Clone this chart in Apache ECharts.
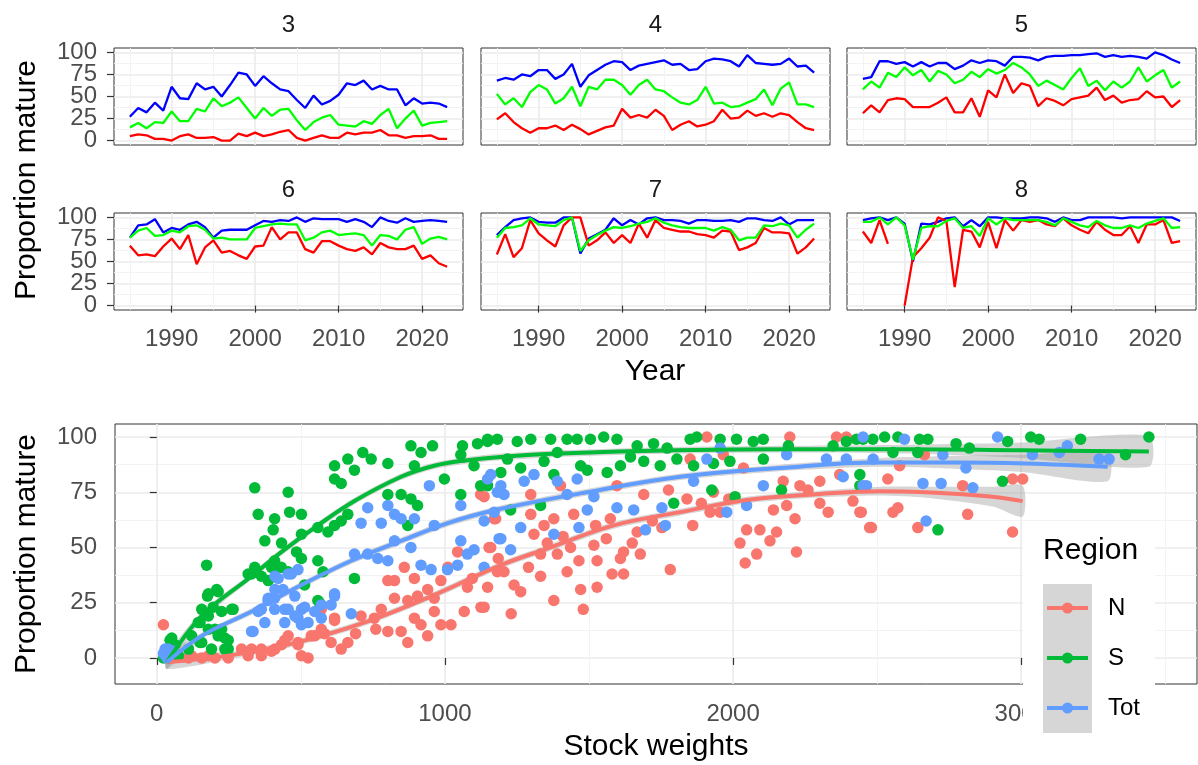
<!DOCTYPE html>
<html>
<head>
<meta charset="utf-8">
<script src="https://cdn.jsdelivr.net/npm/echarts@6/dist/echarts.min.js"></script>
<style>
  html, body { margin: 0; padding: 0; background: #fff; }
  #chart { width: 1198px; height: 765px; }
</style>
</head>
<body>
<div id="chart"></div>
<script>
// years shown in the six facets
const years = [1985, 1986, 1987, 1988, 1989, 1990, 1991, 1992, 1993, 1994, 1995, 1996, 1997, 1998, 1999,
  2000, 2001, 2002, 2003, 2004, 2005, 2006, 2007, 2008, 2009, 2010, 2011, 2012, 2013, 2014, 2015, 2016,
  2017, 2018, 2019, 2020, 2021, 2022, 2023]

// proportion mature by age, N (red) / S (green) / Tot (blue)
const n3 = [5, 7, 6, 2, 2, 0, 5, 7, 3, 3, 4, 0, 0, 8, 5, 9, 5, 7, 10, 12, 3, 0, 3, 6, 3, 3, 9, 7, 9, 9, 12, 6, 6, 3, 5, 5, 6, 2, 2]
const s3 = [15, 20, 14, 21, 20, 33, 22, 22, 36, 33, 48, 39, 43, 49, 37, 25, 37, 28, 35, 36, 23, 12, 21, 26, 29, 18, 17, 16, 22, 19, 29, 36, 14, 25, 34, 17, 20, 21, 22]
const t3 = [27, 37, 32, 43, 34, 61, 48, 47, 65, 58, 61, 50, 63, 77, 75, 62, 73, 65, 58, 56, 46, 37, 51, 41, 45, 52, 65, 63, 68, 58, 62, 58, 58, 40, 48, 42, 43, 42, 38]

const n4 = [24, 31, 21, 14, 9, 14, 14, 17, 12, 18, 13, 7, 11, 15, 17, 36, 26, 29, 26, 35, 28, 12, 18, 22, 16, 18, 22, 35, 25, 26, 34, 28, 31, 27, 31, 29, 21, 14, 12]
const s4 = [53, 41, 48, 38, 55, 63, 58, 42, 48, 61, 39, 61, 58, 69, 69, 63, 52, 63, 69, 58, 56, 49, 43, 41, 46, 61, 42, 43, 38, 39, 43, 47, 58, 40, 59, 66, 41, 41, 38]
const t4 = [68, 71, 69, 75, 73, 80, 80, 70, 75, 87, 61, 74, 80, 86, 90, 89, 80, 85, 87, 89, 91, 86, 87, 80, 81, 90, 93, 92, 90, 84, 97, 88, 87, 86, 87, 93, 84, 85, 77]

const n5 = [31, 40, 32, 46, 48, 47, 38, 38, 38, 43, 49, 32, 32, 48, 27, 57, 49, 75, 54, 65, 62, 39, 48, 45, 40, 47, 49, 51, 60, 46, 51, 43, 46, 47, 56, 49, 50, 38, 46]
const s5 = [58, 67, 60, 77, 72, 83, 74, 80, 67, 79, 75, 65, 69, 78, 72, 81, 76, 80, 88, 83, 75, 62, 68, 63, 58, 71, 82, 62, 68, 57, 67, 60, 67, 83, 67, 74, 80, 60, 67]
const t5 = [70, 72, 90, 90, 87, 89, 84, 89, 84, 88, 88, 81, 85, 91, 88, 91, 90, 85, 95, 95, 94, 91, 95, 96, 96, 97, 97, 98, 99, 95, 97, 95, 96, 95, 93, 100, 97, 92, 88]

const n6 = [68, 57, 58, 56, 67, 76, 64, 80, 47, 66, 74, 60, 62, 57, 53, 67, 68, 89, 75, 83, 83, 64, 60, 73, 73, 68, 64, 62, 66, 58, 71, 66, 64, 64, 68, 53, 57, 48, 44]
const s6 = [77, 85, 88, 79, 80, 85, 83, 90, 91, 86, 76, 77, 75, 75, 75, 88, 90, 92, 93, 92, 92, 74, 77, 83, 85, 80, 81, 82, 80, 68, 80, 79, 75, 86, 89, 70, 76, 78, 75]
const t6 = [77, 91, 92, 98, 83, 88, 86, 92, 95, 89, 77, 85, 86, 86, 86, 91, 96, 95, 97, 96, 100, 95, 99, 98, 98, 98, 95, 98, 95, 89, 100, 96, 94, 99, 95, 96, 97, 96, 95]

const n7 = [58, 81, 55, 65, 97, 82, 74, 67, 91, 100, 100, 68, 74, 83, 71, 80, 71, 93, 77, 97, 88, 86, 84, 84, 81, 80, 77, 85, 84, 63, 66, 71, 88, 83, 83, 82, 59, 66, 76]
const s7 = [77, 88, 89, 91, 99, 92, 91, 90, 97, 100, 62, 74, 80, 85, 89, 88, 90, 93, 95, 99, 94, 91, 89, 88, 88, 88, 85, 89, 86, 74, 77, 77, 91, 90, 93, 91, 77, 86, 93]
const t7 = [80, 89, 97, 99, 100, 95, 94, 94, 100, 100, 59, 76, 81, 86, 99, 91, 97, 92, 99, 100, 97, 97, 96, 93, 97, 97, 96, 96, 97, 95, 99, 99, 97, 96, 100, 92, 97, 97, 97]

const n8 = [84, 71, 97, 70, null, 0, 55, 65, 77, 100, 96, 21, 86, 84, 66, 95, 65, 97, 85, 97, 95, 97, 92, 90, 99, 91, 86, 82, 95, 86, 80, 80, 90, 71, 92, 92, 97, 71, 73]
const s8 = [95, 95, 100, 92, 100, 91, 52, 88, 90, 90, 96, 99, 88, 90, 79, 99, 92, 99, 97, 97, 97, 97, 95, 91, 99, 95, 91, 89, 96, 91, 88, 88, 91, 88, 93, 96, 99, 88, 89]
const t8 = [97, 99, 100, 97, 100, 93, 50, 93, 92, 95, 99, 100, 90, 97, 90, 100, 100, 99, 99, 99, 100, 100, 99, 95, 100, 97, 97, 100, 100, 100, 100, 99, 100, 100, 100, 100, 100, 100, 96]

// stock weight vs proportion mature, [weight, proportion]
const pointsN = [[23, 15], [29, 1], [110, 0], [156, 0], [202, 0], [248, 0], [75, 1], [294, 4], [329, 4], [363, 4], [398, 3],
  [433, 6], [456, 10], [490, 6], [502, 1], [525, 0], [548, 10], [571, 13], [571, 22], [617, 18], [640, 4], [663, 7], [605, 7],
  [709, 19], [755, 18], [779, 22], [802, 12], [802, 35], [825, 35], [859, 41], [894, 36], [848, 12], [871, 7], [894, 18],
  [917, 15], [940, 10], [963, 21], [986, 15], [1021, 15], [905, 28], [940, 31], [963, 27], [986, 35], [1044, 48], [1067, 21],
  [1125, 23], [1148, 32], [1153, 50], [1124, 74], [1176, 63], [1078, 32], [1182, 39], [871, 26], [825, 27],
  [444, 8], [490, 7], [536, 10], [582, 11], [617, 17], [317, 1], [179, 1], [121, 1], [363, 1], [410, 4], [40, 0], [60, 2],
  [1136, 73], [1171, 63], [1159, 50], [1136, 23], [1205, 39], [1263, 30], [1332, 37], [1378, 26], [1424, 39], [1471, 31],
  [1528, 32], [1580, 38], [1620, 38], [1678, 47], [1782, 40], [1298, 65], [1298, 74], [1344, 60], [1378, 63], [1309, 56],
  [1332, 47], [1390, 47], [1436, 50], [1447, 65], [1517, 51], [1528, 44], [1523, 60], [1574, 63], [1609, 45], [1620, 48],
  [1690, 74], [1667, 57], [1753, 59], [1776, 76], [1840, 72], [1851, 90], [1909, 100], [1932, 75], [1920, 66], [1955, 66],
  [2024, 52], [2047, 58], [2042, 43], [2082, 47], [2093, 58], [2128, 53], [2151, 57], [2140, 67], [2186, 69], [2215, 63],
  [2220, 48], [2174, 80], [2232, 78], [2197, 100], [2301, 80], [2301, 70], [2370, 83], [2359, 100], [2393, 100], [2416, 71],
  [2440, 66], [2474, 59], [2036, 86], [1966, 92], [1401, 78], [1597, 78],
  [2445, 66], [2480, 59], [2537, 81], [2578, 87], [2555, 66], [2572, 68], [2641, 59], [2664, 92], [2797, 78], [2814, 65],
  [2970, 81], [3005, 81], [2970, 57],
  [1185, 45], [1240, 33], [1290, 41], [1355, 52], [1410, 55], [1465, 44], [1560, 54], [1650, 52], [1720, 62], [1890, 70],
  [1010, 41], [1095, 36], [760, 13], [690, 11], [1230, 20], [1480, 22], [1860, 60], [1985, 72], [2260, 76], [2330, 66]]

const pointsS = [[23, 0], [30, 2], [40, 1], [46, 8], [173, 42], [176, 28], [208, 31], [156, 22], [179, 19], [225, 21], [265, 22],
  [144, 16], [202, 13], [236, 9], [156, 7], [190, 4], [248, 4], [110, 4], [75, 1], [121, 10], [63, 6], [225, 13], [179, 29],
  [213, 30], [196, 23], [260, 22], [150, 16], [179, 13], [213, 10], [248, 8], [236, 4], [150, 7], [52, 9],
  [340, 77], [352, 65], [409, 63], [456, 75], [461, 66], [502, 65], [375, 53], [404, 58], [433, 52], [485, 48], [502, 45],
  [409, 44], [340, 41], [317, 38], [387, 35], [421, 41], [456, 39], [513, 33], [559, 44], [577, 39], [565, 25], [686, 36],
  [329, 38], [398, 41], [432, 41], [363, 37], [559, 26],
  [617, 87], [663, 90], [715, 93], [744, 90], [686, 85], [617, 81], [640, 79], [802, 88], [882, 96], [917, 93], [957, 96],
  [894, 87], [998, 81], [1061, 96], [1113, 97], [1148, 98], [1055, 92], [1101, 87], [1124, 78], [1055, 74], [848, 74],
  [882, 72], [905, 69], [802, 74], [871, 60], [663, 65], [617, 60], [559, 59], [594, 57], [640, 62], [502, 56],
  [1148, 99], [1182, 99], [1251, 98], [1298, 99], [1367, 99], [1424, 99], [1459, 99], [1505, 99], [1551, 100], [1597, 99],
  [1667, 96], [1724, 97], [1771, 95], [1851, 99], [1874, 100], [1955, 99], [2012, 99], [2070, 98], [2105, 99], [2192, 96],
  [2347, 96], [2393, 98], [2428, 99], [2485, 99],
  [1217, 90], [1263, 86], [1344, 89], [1390, 93], [1471, 87], [1494, 85], [1563, 84], [1609, 87], [1644, 91], [1690, 89],
  [1747, 87], [1805, 90], [1863, 87], [1932, 88], [1989, 89], [2105, 90],
  [1148, 78], [1194, 84], [1228, 67], [1332, 69], [1378, 83], [1794, 70], [1926, 76], [2007, 73], [2168, 76], [2440, 83], [2440, 78],
  [2451, 99], [2526, 100], [2572, 100], [2647, 99], [2676, 99], [2555, 93], [2641, 93], [2774, 97], [2820, 95], [2953, 98],
  [3033, 100], [3062, 99], [3206, 99], [3362, 92], [3443, 100], [2935, 80], [2711, 58]]

const pointsTot = [[23, 2], [35, 0], [40, 4], [29, 4], [60, 3],
  [334, 12], [387, 27], [421, 36], [467, 38], [438, 31], [409, 27], [456, 22], [479, 19], [502, 15], [525, 16], [444, 16],
  [502, 22], [548, 21], [571, 24], [617, 28], [605, 24], [675, 20], [352, 21], [375, 16], [409, 22], [329, 12], [386, 26],
  [410, 31], [444, 22], [479, 28], [490, 18], [513, 23], [571, 18], [617, 29], [456, 38], [490, 40], [410, 37], [363, 22],
  [686, 47], [732, 47], [767, 45], [802, 44], [709, 61], [732, 68], [779, 61], [802, 69], [825, 65], [848, 63], [894, 63],
  [946, 78], [963, 60], [917, 42], [952, 40], [1009, 40], [1055, 53], [1078, 47], [1101, 49], [1055, 69], [1159, 83],
  [1182, 75], [1171, 66], [1188, 54], [1044, 42], [882, 50], [825, 53],
  [1148, 81], [1194, 78], [1205, 74], [1275, 80], [1309, 83], [1390, 80], [1459, 81], [1424, 74], [1517, 73], [1494, 67],
  [1597, 68], [1655, 67], [1753, 68], [1263, 59], [1378, 56], [1465, 59], [1696, 58], [1765, 60], [1194, 54], [1228, 49],
  [1136, 41], [1136, 62], [1863, 80], [1909, 90], [1955, 95], [2105, 78], [2186, 92], [2324, 90], [2393, 90], [2451, 100],
  [2463, 78], [1978, 66], [2047, 69], [2382, 82],
  [2451, 78], [2486, 90], [2595, 99], [2659, 79], [2722, 79], [2670, 62], [2808, 86], [2832, 77], [2918, 100], [3039, 92],
  [3132, 93], [3160, 96], [3270, 90], [3305, 90], [2728, 92]]

// smoothed fits and half width of their grey bands
const fitN = [[35, -2], [271, 1.5], [502, 7.5], [732, 16.5], [963, 28.5], [1194, 42], [1355, 49.5], [1586, 60], [1817, 66],
  [2047, 71.5], [2278, 74], [2509, 75.5], [2670, 75], [2901, 73], [3005, 71]]
const bandN = [3, 1.5, 1.5, 1.5, 1.5, 1.5, 1.5, 1.5, 1.5, 1.5, 1.5, 2, 2.5, 4.5, 7]
const fitS = [[35, -2], [156, 19], [329, 37], [433, 48], [548, 59], [686, 71], [848, 82], [963, 87], [1078, 89.5], [1194, 91],
  [1400, 92.5], [1800, 94], [2200, 94.5], [2600, 94.5], [3000, 94], [3443, 93.5]]
const bandS = [3, 2, 1.5, 1.5, 1.5, 1.5, 1.5, 1.5, 1.5, 1.5, 1.5, 1.5, 1.5, 2, 3.5, 7]
const fitTot = [[35, -2], [156, 10], [329, 21], [502, 33], [675, 44], [848, 53], [1021, 61.5], [1194, 67.5], [1471, 74.5],
  [1817, 82], [2163, 86], [2509, 88.5], [2785, 88.5], [3016, 88], [3300, 86.5]]
const bandTot = [3, 1.5, 1.5, 1.5, 1.5, 1.5, 1.5, 1.5, 1.5, 1.5, 1.5, 2, 3, 4, 6.5]

const yearTicks = [1990, 2000, 2010, 2020]
const yearMinor = [1985, 1995, 2005, 2015]
const propTicksA = [0, 50, 100]
const propTicksB = [25, 75]
const propMinor = [12.5, 37.5, 62.5, 87.5]
const weightTicks = [0, 1000, 2000, 3000]
const weightMinor = [500, 1500, 2500, 3500]

const font = "'Liberation Sans', Arial, sans-serif"
const colN = '#F8766D'
const colS = '#00BA38'
const colTot = '#619CFF'

const chart = echarts.init(document.getElementById('chart'))

const facets = [
  {age: '3', n: n3, s: s3, t: t3},
  {age: '4', n: n4, s: s4, t: t4},
  {age: '5', n: n5, s: s5, t: t5},
  {age: '6', n: n6, s: s6, t: t6},
  {age: '7', n: n7, s: s7, t: t7},
  {age: '8', n: n8, s: s8, t: t8}
]

const panelLeft = [114, 481, 847]
const panelTop = [48, 213]

const grids = []
const xAxes = []
const yAxes = []
const series = []
const graphics = []

const tickLabel = (show, ticks, margin) => ({
  show,
  customValues: ticks,
  color: '#4D4D4D',
  fontSize: 24,
  fontFamily: font,
  margin,
  showMinLabel: true,
  showMaxLabel: true,
  hideOverlap: false,
  formatter: v => String(v)
})

const majorAxis = (gridIndex, min, max, ticks, showLabels, position, margin) => ({
  gridIndex,
  type: 'value',
  position,
  min,
  max,
  axisLine: {show: false},
  axisTick: {show: true, length: showLabels ? 7 : 0, customValues: ticks, lineStyle: {color: '#333333', width: 1.2}},
  axisLabel: tickLabel(showLabels, ticks, margin),
  splitLine: {show: true, lineStyle: {color: '#EBEBEB', width: 1.6}}
})

const minorAxis = (gridIndex, min, max, ticks, position) => ({
  gridIndex,
  type: 'value',
  position,
  min,
  max,
  axisLine: {show: false},
  axisTick: {show: true, length: 0, customValues: ticks},
  axisLabel: {show: false, customValues: ticks},
  splitLine: {show: true, lineStyle: {color: '#F2F2F2', width: 0.9}}
})

// proportion axes: labels split over two axes so none of them get culled
const addPropAxes = (gridIndex, min, max, showLabels, margin) => {
  const first = yAxes.length
  yAxes.push(majorAxis(gridIndex, min, max, propTicksA, showLabels, 'left', margin))
  yAxes.push(majorAxis(gridIndex, min, max, propTicksB, showLabels, 'left', margin))
  yAxes.push(minorAxis(gridIndex, min, max, propMinor, 'right'))
  return first
}

const toLine = arr => years.map((y, k) => [y, arr[k] === null ? '-' : arr[k]])

facets.forEach((f, i) => {
  const col = i % 3
  const row = Math.floor(i / 3)
  grids.push({
    left: panelLeft[col], top: panelTop[row], width: 349, height: 97,
    show: true, borderColor: '#333333', borderWidth: 1, backgroundColor: '#fff'
  })
  const xIndex = xAxes.length
  xAxes.push(majorAxis(i, 1983.1, 2024.9, yearTicks, row === 1, 'bottom', 17))
  xAxes.push(minorAxis(i, 1983.1, 2024.9, yearMinor, 'top'))
  const yIndex = addPropAxes(i, -5, 105, col === 0, 17)

  const lines = [[f.t, '#0000FF'], [f.n, '#FF0000'], [f.s, '#00FF00']]
  lines.forEach(([arr, color]) => {
    series.push({
      type: 'line',
      xAxisIndex: xIndex,
      yAxisIndex: yIndex,
      data: toLine(arr),
      showSymbol: false,
      connectNulls: false,
      lineStyle: {color, width: 2.3},
      itemStyle: {color},
      animation: false,
      silent: true
    })
  })

  graphics.push({
    type: 'text',
    x: panelLeft[col] + 174.5,
    y: panelTop[row] - 23,
    style: {text: f.age, fill: '#1A1A1A', font: `24px ${font}`, textAlign: 'center', textVerticalAlign: 'middle'}
  })
})

// bottom scatter panel
const bottom = 6
grids.push({
  left: 115, top: 424, width: 1082, height: 260,
  show: true, borderColor: '#333333', borderWidth: 1, backgroundColor: '#fff'
})
const bx = xAxes.length
xAxes.push(majorAxis(bottom, -145, 3610, weightTicks, true, 'bottom', 18))
xAxes.push(minorAxis(bottom, -145, 3610, weightMinor, 'top'))
const by = addPropAxes(bottom, -11.8, 105.9, true, 18)

const regions = [
  {name: 'N', pts: pointsN, fit: fitN, band: bandN, color: colN},
  {name: 'S', pts: pointsS, fit: fitS, band: bandS, color: colS},
  {name: 'Tot', pts: pointsTot, fit: fitTot, band: bandTot, color: colTot}
]

regions.forEach(r => {
  series.push({
    name: r.name,
    type: 'scatter',
    xAxisIndex: bx,
    yAxisIndex: by,
    data: r.pts,
    symbolSize: 11.5,
    itemStyle: {color: r.color, opacity: 1},
    animation: false,
    silent: true
  })
})

regions.forEach(r => {
  series.push({
    name: r.name + ' band',
    type: 'custom',
    xAxisIndex: bx,
    yAxisIndex: by,
    data: [[r.fit[0][0], r.fit[0][1]]],
    renderItem: (params, api) => {
      const upper = r.fit.map((d, k) => api.coord([d[0], d[1] + r.band[k]]))
      const lower = r.fit.map((d, k) => api.coord([d[0], d[1] - r.band[k]])).reverse()
      return {
        type: 'polygon',
        shape: {points: upper.concat(lower), smooth: 0.25},
        style: {fill: 'rgba(153,153,153,0.4)'}
      }
    },
    animation: false,
    silent: true
  })
  series.push({
    name: r.name,
    type: 'line',
    xAxisIndex: bx,
    yAxisIndex: by,
    data: r.fit,
    smooth: 0.4,
    showSymbol: false,
    lineStyle: {color: r.color, width: 4},
    itemStyle: {color: r.color},
    animation: false,
    silent: true
  })
})

// axis titles
const title = (text, x, y, rotation) => ({
  type: 'text', x, y, rotation,
  style: {text, fill: '#000', font: `30px ${font}`, textAlign: 'center', textVerticalAlign: 'middle'}
})
graphics.push(title('Year', 655, 372, 0))
graphics.push(title('Stock weights', 656, 747, 0))
graphics.push(title('Proportion mature', 27, 180, Math.PI / 2))
graphics.push(title('Proportion mature', 27, 554, Math.PI / 2))

// legend drawn inside the bottom panel
graphics.push({
  type: 'rect', x: 1023, y: 525, z: 100,
  shape: {x: 0, y: 0, width: 132, height: 222}, style: {fill: '#fff'}
})
graphics.push({
  type: 'text', x: 1043, y: 551, z: 101,
  style: {text: 'Region', fill: '#000', font: `30px ${font}`, textVerticalAlign: 'middle'}
})
graphics.push({
  type: 'rect', x: 1043, y: 584, z: 101,
  shape: {x: 0, y: 0, width: 49, height: 149}, style: {fill: '#D6D6D6'}
})
regions.forEach((r, k) => {
  const cy = 608 + k * 50
  graphics.push({
    type: 'rect', x: 1047, y: cy - 2, z: 102,
    shape: {x: 0, y: 0, width: 41, height: 4}, style: {fill: r.color}
  })
  graphics.push({
    type: 'circle', x: 1067.5, y: cy, z: 102,
    shape: {cx: 0, cy: 0, r: 5.5}, style: {fill: r.color}
  })
  graphics.push({
    type: 'text', x: 1108, y: cy, z: 102,
    style: {text: r.name, fill: '#000', font: `24px ${font}`, textVerticalAlign: 'middle'}
  })
})

chart.setOption({
  backgroundColor: '#fff',
  animation: false,
  grid: grids,
  xAxis: xAxes,
  yAxis: yAxes,
  series,
  graphic: graphics
})
</script>
</body>
</html>
